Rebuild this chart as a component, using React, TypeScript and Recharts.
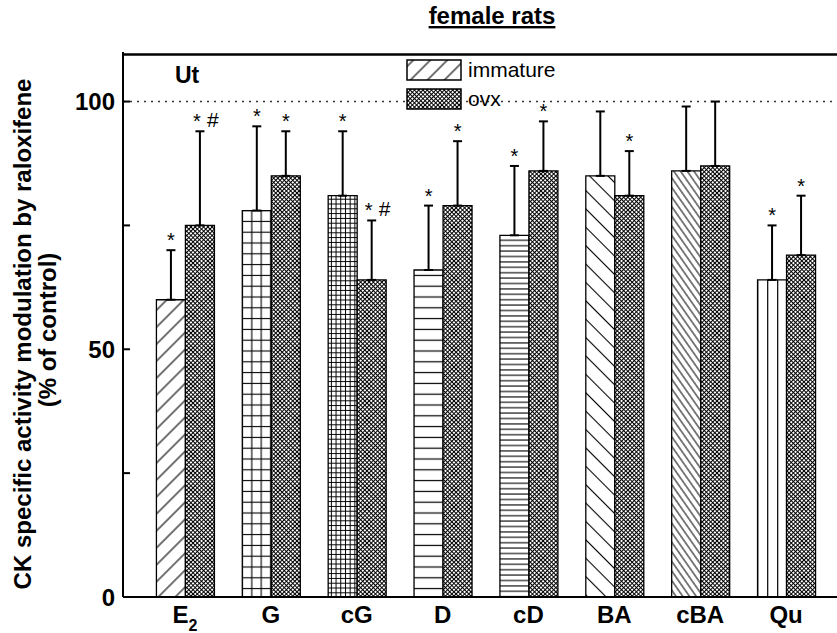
import { BarChart, Bar, XAxis, YAxis, ErrorBar, LabelList, Cell, ReferenceLine, Legend } from 'recharts';

const FONT = '"Liberation Sans", Arial, Helvetica, sans-serif';

// values (% of control)
const categories = ['E2', 'G', 'cG', 'D', 'cD', 'BA', 'cBA', 'Qu'];
const immature = [60, 78, 81, 66, 73, 85, 86, 64];
const immatureErr = [10, 17, 13, 13, 14, 13, 13, 11];
const ovx = [75, 85, 64, 79, 86, 81, 87, 69];
const ovxErr = [19, 9, 12, 13, 10, 9, 13, 12];
const immatureMarks = ['*', '*', '*', '*', '*', '', '', '*'];
const ovxMarks = ['*#', '*', '*#', '*', '*', '*', '', '*'];
const immaturePatterns = ['diagUp', 'grid', 'gridFine', 'hLines', 'hLinesFine', 'diagDown', 'diagDownFine', 'vLines'];
const yTicks = [0, 25, 50, 75, 100];
const yTickLabels = ['0', '', '50', '', '100'];

const data = categories.map((name, i) => ({
  name,
  immature: immature[i],
  immatureErr: [0, immatureErr[i]],
  immatureMark: immatureMarks[i],
  ovx: ovx[i],
  ovxErr: [0, ovxErr[i]],
  ovxMark: ovxMarks[i],
}));

const legendItems = [
  { label: 'immature', fill: 'url(#diagUp)' },
  { label: 'ovx', fill: 'url(#crossHatch)' },
];

// asterisk / hash above the error bar cap
const makeMarkLabel = (vals: number[], errs: number[]) => (props: any) => {
  const { index, value } = props;
  if (!value) return null;
  const vb = props.viewBox || props;
  const { x, y, width, height } = vb;
  const k = height / vals[index];
  const top = y - errs[index] * k;
  const cx = x + width / 2;
  const hasHash = String(value).includes('#');
  return (
    <g>
      <text x={hasHash ? cx - 3 : cx} y={top - 3} textAnchor="middle" fontSize={20} fontFamily={FONT} fill="#000">*</text>
      {hasHash && (
        <text x={cx + 13} y={top - 4} textAnchor="middle" fontSize={21} fontFamily={FONT} fill="#000">#</text>
      )}
    </g>
  );
};

const XTick = (props: any) => {
  const { x, y, payload } = props;
  const label = String(payload.value);
  return (
    <text x={x} y={y + 26} textAnchor="middle" fontSize={24} fontWeight="bold" fontFamily={FONT} fill="#000">
      {label === 'E2' ? (
        <>
          <tspan>E</tspan>
          <tspan fontSize={16} dy={8}>2</tspan>
        </>
      ) : (
        label
      )}
    </text>
  );
};

const YTick = (props: any) => {
  const { x, y, payload } = props;
  const label = yTickLabels[yTicks.indexOf(payload.value)];
  return (
    <g>
      <line x1={x} x2={x + 7} y1={y} y2={y} stroke="#000" strokeWidth={2} />
      {label && (
        <text x={x - 8} y={y + 8.5} textAnchor="end" fontSize={24} fontWeight="bold" fontFamily={FONT} fill="#000">
          {label}
        </text>
      )}
    </g>
  );
};

const renderLegend = () => (
  <div style={{ fontFamily: FONT, fontSize: 21, color: '#000' }}>
    {legendItems.map((item) => (
      <div key={item.label} style={{ display: 'flex', alignItems: 'center', height: 21, marginBottom: 8 }}>
        <svg width={56} height={22} style={{ display: 'block' }}>
          <rect x={1} y={1} width={54} height={20} fill={item.fill} stroke="#000" strokeWidth={1.5} />
        </svg>
        <span style={{ marginLeft: 6, lineHeight: '21px' }}>{item.label}</span>
      </div>
    ))}
  </div>
);

export default function App() {
  return (
    <div style={{ position: 'absolute', left: 0, top: 0, width: 837, height: 633, overflow: 'hidden', background: '#fff' }}>
      <BarChart
        width={860}
        height={633}
        data={data}
        margin={{ top: 52, right: 0, bottom: 0, left: 0 }}
        barCategoryGap="16.8%"
        barGap={0}
      >
        <defs>
          <pattern id="diagUp" patternUnits="userSpaceOnUse" width="12" height="12" patternTransform="rotate(45)">
            <rect width="12" height="12" fill="#fff" />
            <line x1="6" y1="0" x2="6" y2="12" stroke="#000" strokeWidth="1.1" />
          </pattern>
          <pattern id="diagDown" patternUnits="userSpaceOnUse" width="13" height="13" patternTransform="rotate(-45)">
            <rect width="13" height="13" fill="#fff" />
            <line x1="6.5" y1="0" x2="6.5" y2="13" stroke="#000" strokeWidth="1.1" />
          </pattern>
          <pattern id="diagDownFine" patternUnits="userSpaceOnUse" width="5.5" height="5.5" patternTransform="rotate(-35)">
            <rect width="5.5" height="5.5" fill="#fff" />
            <line x1="2.75" y1="0" x2="2.75" y2="5.5" stroke="#000" strokeWidth="1" />
          </pattern>
          <pattern id="grid" patternUnits="userSpaceOnUse" width="9.5" height="10.8">
            <rect width="9.5" height="10.8" fill="#fff" />
            <line x1="4.75" y1="0" x2="4.75" y2="10.8" stroke="#000" strokeWidth="1.1" />
            <line x1="0" y1="5.4" x2="9.5" y2="5.4" stroke="#000" strokeWidth="1.1" />
          </pattern>
          <pattern id="gridFine" patternUnits="userSpaceOnUse" width="4.7" height="4.8">
            <rect width="4.7" height="4.8" fill="#fff" />
            <line x1="2.35" y1="0" x2="2.35" y2="4.8" stroke="#000" strokeWidth="1" />
            <line x1="0" y1="2.4" x2="4.7" y2="2.4" stroke="#000" strokeWidth="1" />
          </pattern>
          <pattern id="hLines" patternUnits="userSpaceOnUse" width="10" height="10.8">
            <rect width="10" height="10.8" fill="#fff" />
            <line x1="0" y1="5.4" x2="10" y2="5.4" stroke="#000" strokeWidth="1.2" />
          </pattern>
          <pattern id="hLinesFine" patternUnits="userSpaceOnUse" width="10" height="5.4">
            <rect width="10" height="5.4" fill="#fff" />
            <line x1="0" y1="2.7" x2="10" y2="2.7" stroke="#000" strokeWidth="1.1" />
          </pattern>
          <pattern id="vLines" patternUnits="userSpaceOnUse" width="10" height="10">
            <rect width="10" height="10" fill="#fff" />
            <line x1="7.7" y1="0" x2="7.7" y2="10" stroke="#000" strokeWidth="1.2" />
          </pattern>
          <pattern id="crossHatch" patternUnits="userSpaceOnUse" width="3" height="3" patternTransform="rotate(45)">
            <rect width="3" height="3" fill="#fff" />
            <line x1="1.5" y1="0" x2="1.5" y2="3" stroke="#000" strokeWidth="1" />
            <line x1="0" y1="1.5" x2="3" y2="1.5" stroke="#000" strokeWidth="1" />
          </pattern>
        </defs>
        <XAxis
          dataKey="name"
          height={36}
          padding={{ left: 19, right: 31 }}
          tickLine={false}
          tickSize={0}
          tickMargin={0}
          interval={0}
          axisLine={{ stroke: '#000', strokeWidth: 2 }}
          tick={<XTick />}
        />
        <YAxis
          width={123}
          domain={[0, 110]}
          ticks={yTicks}
          interval={0}
          tickLine={false}
          tickSize={0}
          tickMargin={0}
          axisLine={{ stroke: '#000', strokeWidth: 2 }}
          tick={<YTick />}
        />
        <ReferenceLine y={100} stroke="#333" strokeWidth={1.5} strokeDasharray="2 5" />
        <ReferenceLine y={109.5} stroke="#000" strokeWidth={2.5} />
        <Legend
          layout="vertical"
          align="center"
          verticalAlign="middle"
          content={renderLegend}
          wrapperStyle={{ position: 'absolute', left: 406, top: 59, width: 200 }}
        />
        <Bar dataKey="immature" name="immature" stroke="#000" strokeWidth={1.3} isAnimationActive={false}>
          {data.map((d, i) => (
            <Cell key={d.name} fill={`url(#${immaturePatterns[i]})`} />
          ))}
          <ErrorBar dataKey="immatureErr" direction="y" width={4.5} stroke="#000" strokeWidth={2} />
          <LabelList dataKey="immatureMark" content={makeMarkLabel(immature, immatureErr)} />
        </Bar>
        <Bar dataKey="ovx" name="ovx" fill="url(#crossHatch)" stroke="#000" strokeWidth={1.3} isAnimationActive={false}>
          <ErrorBar dataKey="ovxErr" direction="y" width={4.5} stroke="#000" strokeWidth={2} />
          <LabelList dataKey="ovxMark" content={makeMarkLabel(ovx, ovxErr)} />
        </Bar>
      </BarChart>
      <svg width={837} height={633} style={{ position: 'absolute', left: 0, top: 0, pointerEvents: 'none' }}>
        <text x={492} y={24} textAnchor="middle" fontSize={24} fontWeight="bold" fontFamily={FONT} textDecoration="underline" fill="#000">
          female rats
        </text>
        <text x={175} y={83} fontSize={23} fontWeight="bold" fontFamily={FONT} fill="#000">
          Ut
        </text>
        <text transform="translate(31,334) rotate(-90)" textAnchor="middle" fontSize={24} fontWeight="bold" fontFamily={FONT} fill="#000">
          CK specific activity modulation by raloxifene
        </text>
        <text transform="translate(56,330) rotate(-90)" textAnchor="middle" fontSize={24} fontWeight="bold" fontFamily={FONT} fill="#000">
          (% of control)
        </text>
      </svg>
    </div>
  );
}
